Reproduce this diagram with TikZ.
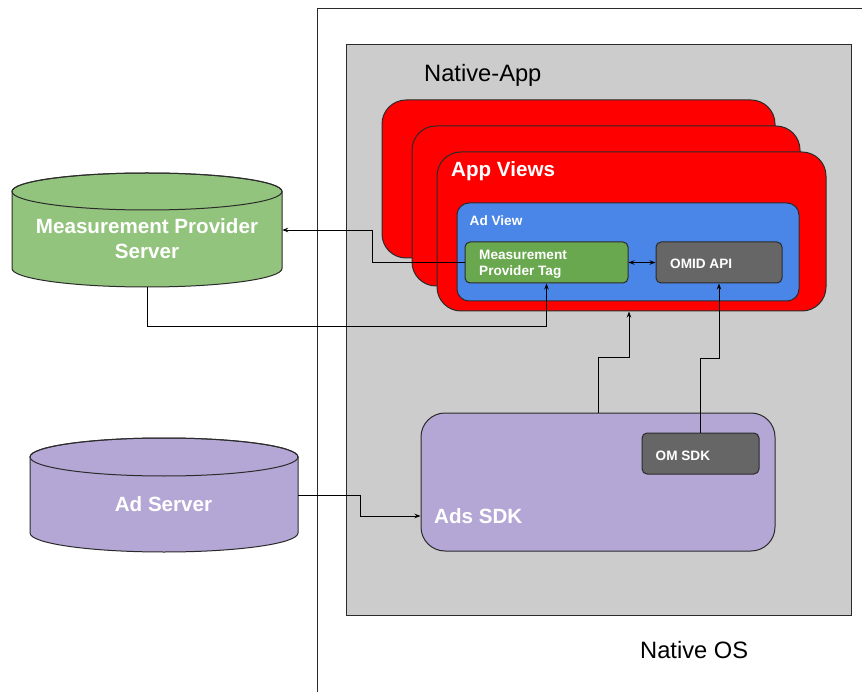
\documentclass[tikz,border=0pt]{standalone}
\usepackage{fontspec}
\setmainfont{Liberation Sans}
\usetikzlibrary{arrows.meta,calc}
\definecolor{bggray}{HTML}{CCCCCC}
\definecolor{appred}{HTML}{FF0000}
\definecolor{adblue}{HTML}{4A86E8}
\definecolor{taggreen}{HTML}{6AA84F}
\definecolor{boxgray}{HTML}{666666}
\definecolor{srvgreen}{HTML}{93C47D}
\definecolor{lilac}{HTML}{B4A7D6}
\definecolor{edgecol}{HTML}{2B2B2B}
\tikzset{
  box/.style={draw=edgecol, line width=1pt, inner sep=0pt},
  conn/.style={draw=black, line width=0.9pt, -{Stealth[length=6pt,width=4.5pt]}},
  dconn/.style={draw=black, line width=0.9pt, {Stealth[length=6pt,width=4.5pt]}-{Stealth[length=6pt,width=4.5pt]}},
  cyl/.style={draw=edgecol, line width=1pt},
  bigtxt/.style={text=white, font=\bfseries\fontsize{20.6}{24.3}\selectfont, inner sep=0pt},
  smalltxt/.style={text=white, font=\bfseries\fontsize{13.6}{16.8}\selectfont, inner sep=0pt},
  plaintxt/.style={text=black, font=\fontsize{23.7}{28}\selectfont, inner sep=0pt},
}
\begin{document}
\begin{tikzpicture}[x=1pt,y=1pt,yscale=-1]
\useasboundingbox (0,0) rectangle (862,692);
\fill[white] (0,0) rectangle (862,692);
% Native OS frame
\draw[edgecol, line width=1pt] (317,700) -- (317,9) -- (870,9);
% Native-App
\node[box, fill=bggray, minimum width=505, minimum height=570] (nativeapp) at (598.5,330) {};
% App views stack
\node[box, fill=appred, rounded corners=24pt, minimum width=393, minimum height=158] (av1) at (578.5,179) {};
\node[box, fill=appred, rounded corners=24pt, minimum width=388, minimum height=160] (av2) at (606,206) {};
\node[box, fill=appred, rounded corners=24pt, minimum width=389, minimum height=159] (av3) at (631.5,231.5) {};
\node[box, fill=adblue, rounded corners=12pt, minimum width=342, minimum height=98] (adview) at (628,252) {};
\node[box, fill=taggreen, rounded corners=5pt, minimum width=163, minimum height=41] (tag) at (546.5,262.5) {};
\node[box, fill=boxgray, rounded corners=5pt, minimum width=126, minimum height=41] (omid) at (719,262.5) {};
% Ads SDK
\node[box, fill=lilac, rounded corners=24pt, minimum width=354, minimum height=138] (sdk) at (598,482) {};
\node[box, fill=boxgray, rounded corners=5pt, minimum width=117, minimum height=41] (omsdk) at (700.5,453.5) {};
% Cylinders
\path[cyl, fill=srvgreen] (12,191.5) -- (12,268.5) arc (180:0:135 and 18.5) -- (282,191.5) arc (0:-180:135 and 18.5) -- cycle;
\draw[cyl] (147,191.5) ellipse (135 and 18.5);
\node[inner sep=0pt, minimum width=270, minimum height=114] (mps) at (147,230) {};
\path[cyl, fill=lilac] (30,457) -- (30,533) arc (180:0:134 and 19) -- (298,457) arc (0:-180:134 and 19) -- cycle;
\draw[cyl] (164,457) ellipse (134 and 19);
\node[inner sep=0pt, minimum width=268, minimum height=114] (adsrv) at (164,495) {};
% Connectors
\draw[conn] (tag.west) -- ++(-92,0) |- (mps.east);
\draw[conn] (mps.south) -- ++(0,39) -| (tag.south);
\draw[conn] (adsrv.east) -- ++(62,0) |- ($(sdk.west)+(0,34)$);
\draw[conn] (sdk.north) -- ++(0,-55) -| ($(av3.south)+(-2.5,0)$);
\draw[conn] (omsdk.north) -- ++(0,-74) -| (omid.south);
\draw[dconn] (tag.east) -- (omid.west);
% Texts
\node[plaintxt, anchor=base west] (tnativeapp) at (424,81.5) {Native-App};
\node[plaintxt, anchor=base west] (tnativeos) at (640,658.5) {Native OS};
\node[bigtxt, anchor=base west] (tappviews) at (451,176.5) {App Views};
\node[smalltxt, anchor=base west] (tadview) at (469.5,226) {Ad View};
\node[smalltxt, anchor=base west] (ttag1) at (479,259.3) {Measurement};
\node[smalltxt, anchor=base west] (ttag2) at (479,276) {Provider Tag};
\node[smalltxt, anchor=base west] (tomid) at (670,268.3) {OMID API};
\node[smalltxt, anchor=base west] (tomsdk) at (655.5,460) {OM SDK};
\node[bigtxt, anchor=base west] (tadssdk) at (434,523) {Ads SDK};
\node[bigtxt, anchor=base] (tmps1) at (147,234) {Measurement Provider};
\node[bigtxt, anchor=base] (tmps2) at (147,258.3) {Server};
\node[bigtxt, anchor=base] (tadsrv) at (163.5,511.7) {Ad Server};
\end{tikzpicture}
\end{document}
